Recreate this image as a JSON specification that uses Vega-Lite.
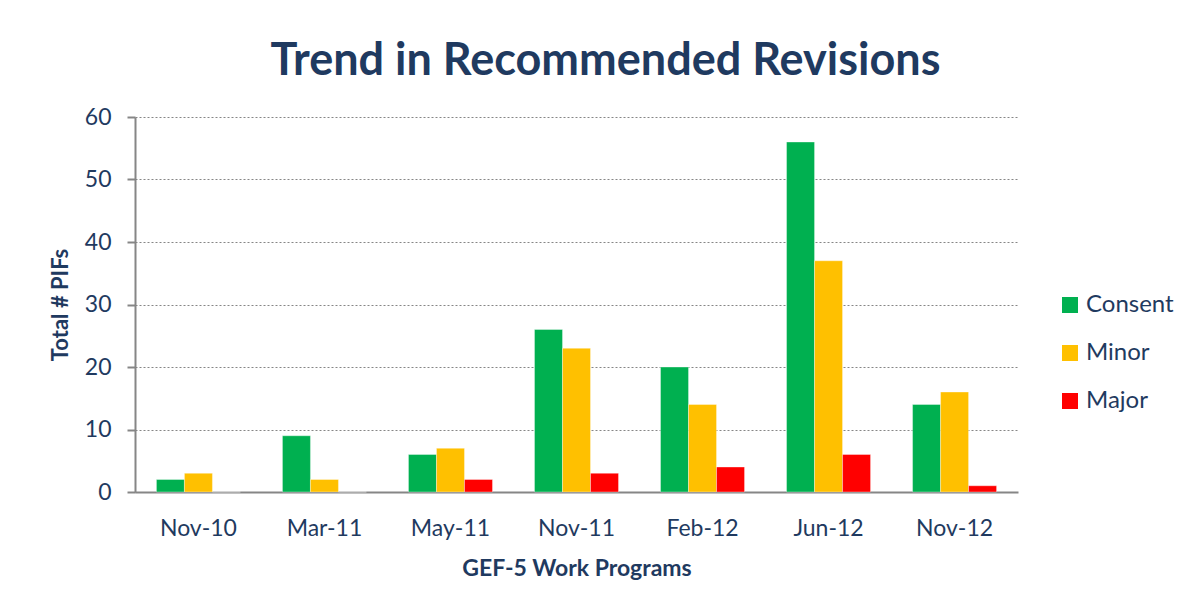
{
  "$schema": "https://vega.github.io/schema/vega-lite/v6.json",
  "width": 883,
  "height": 375,
  "autosize": {"type": "none"},
  "padding": {"left": 135, "top": 117, "right": 168, "bottom": 117},
  "background": "#ffffff",
  "title": {
    "text": "Trend in Recommended Revisions",
    "font": "Lato",
    "fontSize": 45,
    "fontWeight": "bold",
    "color": "#1F3A60",
    "anchor": "middle",
    "dx": 29,
    "offset": 22
  },
  "data": {
    "values": [
      {"program": "Nov-10", "type": "Consent", "count": 2},
      {"program": "Nov-10", "type": "Minor", "count": 3},
      {"program": "Nov-10", "type": "Major", "count": 0},
      {"program": "Mar-11", "type": "Consent", "count": 9},
      {"program": "Mar-11", "type": "Minor", "count": 2},
      {"program": "Mar-11", "type": "Major", "count": 0},
      {"program": "May-11", "type": "Consent", "count": 6},
      {"program": "May-11", "type": "Minor", "count": 7},
      {"program": "May-11", "type": "Major", "count": 2},
      {"program": "Nov-11", "type": "Consent", "count": 26},
      {"program": "Nov-11", "type": "Minor", "count": 23},
      {"program": "Nov-11", "type": "Major", "count": 3},
      {"program": "Feb-12", "type": "Consent", "count": 20},
      {"program": "Feb-12", "type": "Minor", "count": 14},
      {"program": "Feb-12", "type": "Major", "count": 4},
      {"program": "Jun-12", "type": "Consent", "count": 56},
      {"program": "Jun-12", "type": "Minor", "count": 37},
      {"program": "Jun-12", "type": "Major", "count": 6},
      {"program": "Nov-12", "type": "Consent", "count": 14},
      {"program": "Nov-12", "type": "Minor", "count": 16},
      {"program": "Nov-12", "type": "Major", "count": 1}
    ]
  },
  "mark": {"type": "bar", "stroke": "#ffffff", "strokeWidth": 0.6, "strokeOpacity": 0.6},
  "encoding": {
    "x": {
      "field": "program",
      "type": "nominal",
      "sort": null,
      "scale": {"paddingInner": 0.3333, "paddingOuter": 0.17},
      "axis": {
        "title": "GEF-5 Work Programs",
        "labelAngle": 0,
        "ticks": false,
        "labelPadding": 25,
        "titlePadding": 17,
        "titleFontSize": 23,
        "domainColor": "#868686",
        "domainWidth": 2
      }
    },
    "xOffset": {"field": "type", "type": "nominal", "sort": ["Consent", "Minor", "Major"]},
    "y": {
      "field": "count",
      "type": "quantitative",
      "scale": {"domain": [0, 60]},
      "axis": {
        "title": "Total # PIFs",
        "titleFontSize": 22,
        "values": [0, 10, 20, 30, 40, 50, 60],
        "tickSize": 8,
        "tickColor": "#868686",
        "tickWidth": 2,
        "labelPadding": 16,
        "titlePadding": 12,
        "domainColor": "#868686",
        "domainWidth": 2,
        "gridColor": "#868686",
        "gridDash": [2, 2],
        "gridWidth": 1
      }
    },
    "color": {
      "field": "type",
      "type": "nominal",
      "sort": ["Consent", "Minor", "Major"],
      "scale": {"domain": ["Consent", "Minor", "Major"], "range": ["#00B050", "#FFC000", "#FF0000"]},
      "legend": {
        "title": null,
        "orient": "none",
        "legendX": 923,
        "legendY": 176,
        "symbolType": "square",
        "symbolSize": 256,
        "symbolStrokeWidth": 0,
        "rowPadding": 24,
        "labelFontSize": 24,
        "labelFont": "Lato",
        "labelColor": "#1F3A60",
        "labelOffset": 4
      }
    }
  },
  "config": {
    "view": {"stroke": null},
    "axis": {
      "labelFont": "Lato",
      "labelFontSize": 23,
      "labelColor": "#1F3A60",
      "titleFont": "Lato",
      "titleFontSize": 20,
      "titleFontWeight": "bold",
      "titleColor": "#1F3A60"
    }
  }
}
